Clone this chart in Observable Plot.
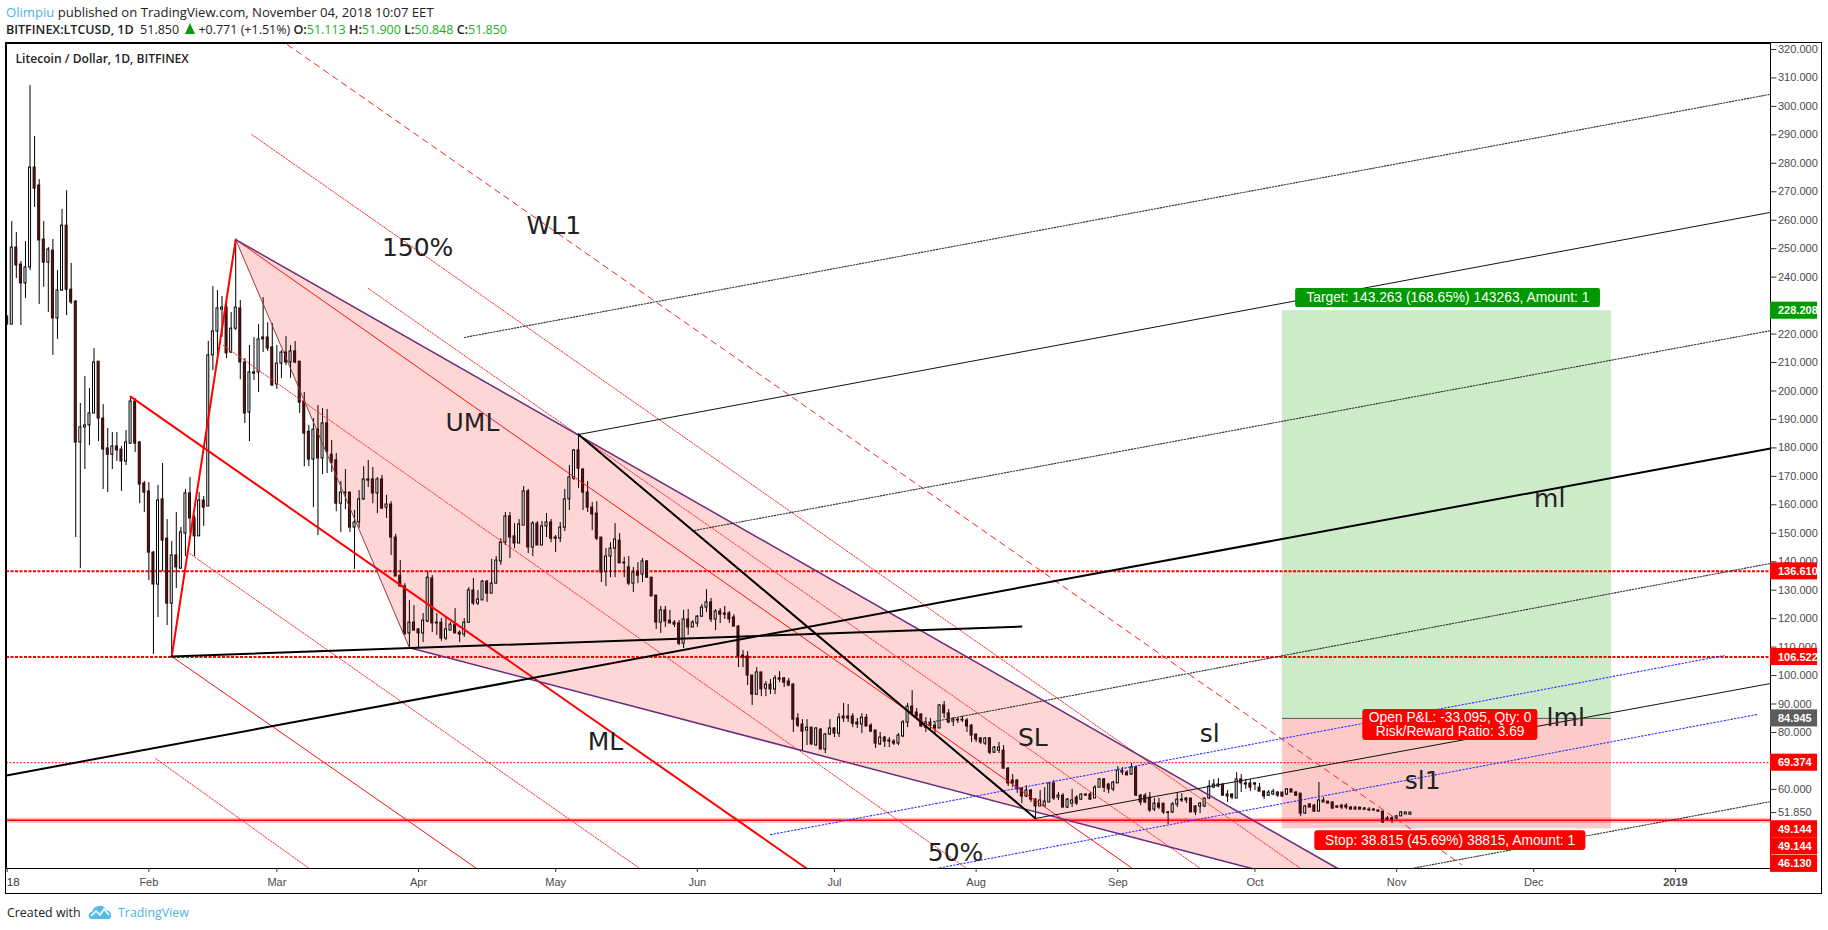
<!DOCTYPE html>
<html><head><meta charset="utf-8">
<script src="https://cdn.jsdelivr.net/npm/d3@7"></script>
<script src="https://cdn.jsdelivr.net/npm/@observablehq/plot@0.6"></script>
<style>
html,body{margin:0;padding:0;background:#fff;width:1828px;height:930px;overflow:hidden}
body{position:relative;font-family:"Open Sans",sans-serif;color:#222}
#h1,#h2,#foot{position:absolute;white-space:nowrap}
#h1{left:6px;top:3px;font-size:13.1px;line-height:18px}
#h1 .u{color:#4ab3e8}
#h2{left:6px;top:21px;font-size:12.5px;line-height:18px}
#h2 b{font-weight:600}
#h2 i{font-style:normal;color:#1db01d}
#h2 .tri{display:inline-block;width:0;height:0;border-left:5px solid transparent;border-right:5px solid transparent;border-bottom:11px solid #0a9a0a;margin:0 3px 0 3px}
#foot{left:7px;top:903px;font-size:12.4px;line-height:20px;height:20px}
#foot .t{position:absolute;left:111px;top:0;color:#4ab3e8;font-size:12.4px}
#foot svg{position:absolute;left:81px;top:1px}
#chart{position:absolute;left:6px;top:43px}
</style></head><body>
<div id="h1"><span class="u">Olimpiu</span> published on TradingView.com, November 04, 2018 10:07 EET</div>
<div id="h2"><b>BITFINEX:LTCUSD, 1D</b>&nbsp; 51.850 <span class="tri"></span>+0.771 (+1.51%) <b>O:</b><i>51.113</i> <b>H:</b><i>51.900</i> <b>L:</b><i>50.848</i> <b>C:</b><i>51.850</i></div>
<div id="chart"></div>
<div id="foot">Created with<svg width="24" height="16" viewBox="0 0 24 16"><path d="M1 13 C0 10 2 8 4 8 C5 4 8 2 11 2 C14 1 17 3 18 6 C21 6 24 9 23 13 C22 15 21 15 19 15 L4 15 C2 15 1 14 1 13 Z" fill="#55bce8"/><path d="M3 12 L8 7 L12 11 L16 5 L21 11" fill="none" stroke="#fff" stroke-width="1.6"/></svg><span class="t">TradingView</span></div>
<script>
const opens=[226.2,223.3,250.4,244.4,237.8,243.4,278.5,272.2,253.2,245.1,249.3,225.5,235.3,258.1,235.6,231.4,181.9,187.2,187.9,192.1,210.3,190.3,179.8,177.6,180.5,179.4,175.2,181.5,196.3,181.9,167.5,164.7,143.2,132.0,161.9,148.1,125.3,142.2,137.6,149.9,164.0,155.2,148.9,161.5,159.4,212.5,220.9,228.6,229.3,213.5,221.9,229.0,210.0,192.4,206.1,206.5,218.8,218.8,215.3,202.3,209.6,213.5,210.0,213.9,210.3,196.3,185.7,175.9,186.4,176.3,188.6,177.6,175.6,160.4,164.3,164.3,152.0,153.8,161.9,168.5,168.9,164.0,168.9,159.0,160.1,148.5,135.1,131.3,114.8,118.6,116.2,114.8,119.0,134.1,118.6,118.6,113.0,115.8,117.9,115.1,114.4,118.6,129.9,125.3,126.4,133.0,128.8,132.3,140.1,146.7,155.9,148.9,146.4,152.7,164.7,145.0,153.4,145.7,152.4,153.8,148.5,148.1,152.0,161.9,169.2,179.1,172.4,164.3,159.0,156.9,148.5,136.5,141.8,144.6,147.4,139.7,138.0,132.3,136.2,135.5,140.1,134.4,128.1,118.6,122.9,119.3,118.6,118.3,111.2,119.7,116.9,118.3,120.7,123.9,125.7,119.7,122.5,121.8,121.8,120.4,117.2,107.0,106.7,100.0,93.3,101.1,95.4,96.8,95.1,98.6,99.0,97.9,96.8,84.9,82.8,80.7,81.7,75.4,81.0,74.0,79.3,81.4,79.6,85.6,85.6,85.6,83.5,82.8,85.2,82.4,80.7,75.8,78.2,77.2,76.8,76.1,78.6,83.5,89.1,87.0,86.3,81.7,83.5,82.4,81.4,89.5,86.7,83.8,84.5,84.5,84.2,82.4,79.3,77.9,76.1,77.9,72.9,73.6,73.6,67.3,63.1,63.1,60.3,57.5,59.6,56.4,54.0,54.0,55.4,62.1,57.1,57.8,53.6,55.0,57.1,56.4,58.2,58.2,56.8,60.6,63.5,61.7,60.0,62.1,66.6,65.9,65.2,67.7,57.8,57.8,57.1,52.9,55.0,55.0,51.9,51.9,54.7,56.1,56.8,56.8,54.0,54.0,54.0,56.8,60.6,61.0,61.7,58.2,58.2,56.8,63.5,61.7,62.1,61.7,60.6,59.2,57.8,58.2,58.9,58.9,58.2,60.0,58.9,58.5,51.5,54.7,54.3,52.2,56.1,55.7,55.4,54.0,54.3,54.3,53.6,53.6,53.6,53.3,52.9,52.9,52.6,52.2,49.8,49.4,49.8,50.5,51.2,51.113];
const highs=[226.2,259.5,255.7,245.5,252.5,307.3,289.4,274.3,259.5,250.4,253.2,242.3,263.8,270.4,244.8,231.8,195.6,205.1,200.9,214.9,210.3,195.2,186.8,185.4,185.4,180.5,186.1,197.7,197.3,182.2,168.2,167.8,143.6,166.8,174.5,154.8,147.1,157.3,152.0,165.4,169.6,156.2,164.3,162.9,217.4,236.7,235.3,233.2,230.7,227.6,253.2,231.8,211.4,216.0,218.8,223.3,232.8,224.0,223.7,216.0,214.2,219.1,216.0,217.4,210.3,199.5,187.9,190.3,194.9,193.8,193.5,182.6,178.0,168.2,172.4,164.3,158.0,165.0,173.4,175.6,173.1,169.6,170.3,163.3,161.1,149.6,140.4,132.3,126.4,124.6,116.5,121.8,136.6,135.1,121.8,120.0,120.4,118.6,123.5,115.8,120.0,130.9,134.1,129.9,133.4,133.4,140.8,141.8,148.1,157.3,157.3,153.4,154.8,166.4,165.4,154.1,154.1,154.1,156.9,154.8,149.2,153.8,165.4,173.8,179.4,185.0,172.7,168.2,160.8,161.1,148.5,144.6,146.7,153.4,149.9,141.5,141.8,138.0,139.7,141.1,140.4,134.4,128.1,124.3,124.3,122.9,119.3,119.3,122.9,123.2,119.3,121.1,125.0,130.2,127.1,123.2,123.5,124.3,122.5,121.4,117.6,108.8,108.4,100.0,102.8,101.1,97.9,98.6,100.0,101.4,99.3,99.0,97.2,86.6,84.5,84.5,81.7,81.7,81.4,79.6,84.5,81.7,86.6,90.2,89.8,86.6,84.9,86.6,86.3,83.1,80.7,80.0,78.6,78.2,77.5,79.6,84.2,90.2,94.7,88.4,86.6,85.2,84.9,83.5,89.8,90.9,88.1,85.2,85.2,85.6,84.9,82.8,79.3,78.2,78.2,78.2,75.1,76.5,75.4,67.7,65.2,63.5,60.3,61.3,60.0,56.8,59.6,60.6,62.4,63.1,58.9,58.5,56.8,60.0,57.8,58.5,58.5,58.9,61.3,63.8,63.8,62.1,62.8,68.0,67.7,66.6,69.1,68.0,58.2,58.5,58.9,56.8,56.8,55.0,52.2,55.4,58.9,58.5,57.1,56.8,54.3,55.4,56.8,63.1,63.5,63.8,62.1,59.6,58.5,65.9,65.2,63.5,63.5,62.4,62.1,59.6,59.6,60.0,59.2,58.9,60.3,60.0,59.2,58.5,54.3,55.0,54.7,62.4,57.1,55.7,55.7,54.3,54.7,55.0,54.0,54.0,53.6,53.6,53.6,53.3,52.6,52.2,50.5,50.5,50.8,52.2,51.9,51.900];
const lows=[223.3,223.3,239.5,223.0,232.5,242.3,264.5,230.4,236.4,227.6,212.5,218.1,235.0,226.5,230.4,148.5,137.6,172.4,180.8,192.1,182.2,165.4,164.3,172.4,175.2,164.7,173.8,181.2,178.4,160.4,157.3,133.4,107.4,120.4,136.5,117.6,106.7,130.6,137.3,141.8,149.9,141.8,148.9,152.4,159.4,207.2,209.6,218.8,211.4,213.2,221.2,204.0,188.6,182.2,203.7,199.5,213.5,213.9,201.6,200.5,204.4,208.9,204.4,209.6,192.1,173.4,173.4,159.0,149.2,170.6,171.0,171.3,157.6,150.3,158.3,150.3,137.3,151.7,161.5,166.1,160.4,156.9,158.3,155.2,142.2,134.8,130.9,114.4,109.8,115.8,109.8,111.6,118.6,115.1,114.1,112.0,112.3,115.8,114.8,111.6,113.4,118.3,124.6,124.6,126.4,125.7,128.8,132.3,138.7,145.7,141.1,144.6,146.4,152.7,142.9,141.8,145.7,145.7,148.5,146.7,143.2,146.7,150.6,158.0,168.5,165.7,158.0,157.3,150.9,147.4,132.7,131.3,134.4,134.4,139.4,134.4,131.6,129.2,132.3,132.7,134.1,127.8,116.2,114.8,116.9,118.3,116.9,110.5,109.5,114.1,116.9,116.9,120.4,122.1,118.6,115.8,118.3,119.7,118.3,117.2,102.8,102.8,96.5,89.5,93.0,92.6,92.6,93.3,93.3,97.5,95.8,96.1,80.0,81.7,73.6,75.4,75.4,75.4,74.0,72.6,78.9,78.2,78.2,83.5,83.5,81.7,81.4,79.6,82.1,80.0,74.4,75.4,74.7,74.7,75.4,75.4,78.2,81.7,85.9,84.9,81.7,80.0,80.7,79.6,81.4,84.9,83.1,82.1,83.1,83.5,80.0,76.5,76.5,75.8,75.4,72.2,72.6,72.6,67.0,61.0,60.6,58.6,55.0,57.1,55.4,50.1,54.0,54.0,55.4,56.1,56.1,53.6,53.3,53.6,54.3,56.1,57.5,56.1,56.8,60.6,58.9,58.5,59.2,62.1,64.9,64.9,64.9,57.5,54.3,55.0,51.9,52.2,52.9,51.2,47.6,51.5,53.6,55.4,55.0,51.9,50.8,51.5,53.6,56.4,60.3,60.6,57.5,55.4,56.4,56.8,58.9,60.0,59.2,59.6,59.2,56.4,57.5,57.8,57.1,57.1,57.8,58.9,57.5,50.4,51.2,53.6,51.9,52.2,55.4,55.0,52.9,53.3,52.9,52.9,52.9,52.9,52.9,52.6,52.2,52.2,51.9,48.0,49.1,48.0,49.4,50.5,51.2,50.848];
const closes=[223.3,250.4,244.1,237.8,243.4,278.5,271.1,252.9,245.1,249.7,225.5,235.3,258.1,235.6,231.1,181.9,187.2,187.9,192.1,210.0,190.3,179.4,177.6,180.5,179.1,175.2,181.9,196.3,181.5,167.1,164.3,143.2,132.0,161.5,147.4,125.3,142.2,138.0,150.3,164.0,155.2,148.9,161.5,159.0,212.5,220.9,229.0,229.3,213.2,221.9,229.3,210.0,192.1,206.5,206.5,218.1,218.1,214.9,201.9,209.6,213.5,210.0,213.9,210.0,195.9,185.0,175.9,186.4,176.3,188.6,178.7,174.8,160.4,164.3,164.0,152.0,153.8,161.9,168.9,168.9,164.0,168.9,158.7,160.1,148.5,134.8,131.3,114.4,118.6,115.8,114.8,119.3,134.4,118.3,118.3,113.0,116.2,117.9,114.8,114.4,118.6,129.9,125.3,126.7,133.0,128.8,132.3,140.4,146.7,155.9,148.5,146.4,153.1,164.7,145.0,153.4,145.7,152.4,153.8,148.1,148.1,152.0,161.9,169.6,179.1,172.7,164.3,159.0,156.6,148.1,136.2,141.8,144.6,147.8,139.4,139.4,132.3,136.2,135.1,140.1,134.4,127.8,118.6,122.9,119.0,118.3,117.9,111.2,119.7,116.9,118.6,120.7,123.9,125.7,119.7,122.5,121.4,121.4,119.7,117.2,106.7,106.3,100.0,93.3,101.1,95.1,96.8,95.1,99.0,99.0,97.5,96.5,84.5,82.4,80.3,81.7,75.8,81.4,74.0,79.3,81.4,79.6,85.2,84.9,84.9,83.1,82.8,85.2,82.1,80.3,76.1,78.2,76.8,76.8,76.1,78.9,83.5,89.1,86.7,85.6,82.1,83.5,82.4,81.4,89.5,86.7,83.5,84.5,84.2,84.2,82.1,78.9,77.5,76.5,77.9,72.9,74.7,74.7,67.3,62.1,62.1,60.0,57.5,59.6,56.4,54.0,56.1,55.7,62.1,56.8,57.8,53.6,56.4,56.1,55.0,58.2,57.8,56.4,60.6,63.5,60.6,60.0,62.4,66.6,65.9,64.9,67.7,57.8,55.4,55.4,52.6,55.0,53.6,51.9,51.7,54.7,56.4,56.4,56.1,51.9,51.9,55.0,56.8,61.0,61.7,61.7,57.8,57.5,57.1,63.5,62.1,62.1,60.6,62.1,59.2,57.5,58.9,59.2,57.8,57.5,60.0,58.9,57.8,51.5,54.0,53.6,52.2,56.1,55.4,55.0,53.3,53.6,53.6,53.6,52.9,52.9,52.9,52.9,52.6,52.6,52.2,48.4,49.4,49.8,50.5,51.9,51.9,51.850];

const monthBars=[31,59,90,120,151,181,212,243,273,304,334];
const monthLabels=["Feb","Mar","Apr","May","Jun","Jul","Aug","Sep","Oct","Nov","Dec"];
const yearBars=[0,365];
const priceTicks=[320,310,300,290,280,270,260,250,240,220,210,200,190,180,170,160,150,140,130,120,110,100,90,80,60,51.85];
const tagPrices=[228.208,136.61,106.522,84.945,69.374,49.144,49.144,46.13];
const hLevels=[136.61,106.522];

const forkFill=[[50,253.2],[291.1,32.2],[272.3,32.2],[88,109.8]];
const forkEdges=[[[50,253.2],[291.1,32.2]],[[88,109.8],[272.3,32.2]]];
const forkLeft=[[50,253.2],[88,109.8]];
const redThick=[[[36,106.7],[50,253.2]],[[27,198],[174.9,32.2]]];
const redThin=[[[50,253.2],[246.2,32.2]],[[36,106.7],[102.7,32.2]]];
const redDotted=[[[53.5,290.1],[283,32.2]],[[79,236],[261.1,32.2]],[[47.3,216],[209.9,32.2]],[[39.9,142.9],[138.4,32.2]],[[32.5,70.8],[66.1,32.2]]];
const redDashed=[[61.3,321.7],[318.2,33.6]];
const blackThick=[[[-0.15,64.9],[385.8,179.8]],[[36,106.7],[221.9,117.2]],[[125,184.7],[225,49.8]]];
const blackThin=[[[125,184.7],[385.6,262.7]],[[225,49.8],[385.8,97.2]]];
const grayDotted=[[[100,218.8],[385.6,304.2]],[[150.4,151],[385.8,221.2]],[[202.7,83.8],[385.8,139.4]],[[307.3,32.2],[385.8,55.7]]];
const blueDotted=[[[167,44.1],[375.6,107]],[[203.3,32.2],[382.8,86.3]]];

const noteText=["150%","WL1","UML","ML","SL","sl","sl1","lml","ml","50%"];
const noteBar=[89.8,119.6,101.8,130.9,224.4,263.1,309.7,341,337.5,207.5];
const notePrice=[250.4,257.8,188.9,76.5,78.2,79.6,62.8,85.2,162.2,37.5];

const posBars=[279,351];
const targetPrice=228.208, entryPrice=84.945, stopPrice=46.13;

const bars=opens.map((o,i)=>({i,o,h:highs[i],l:lows[i],c:closes[i]}));
const up=bars.filter(d=>d.c>=d.o), down=bars.filter(d=>d.c<d.o);
const X=d=>d[0],Y=d=>d[1];
const seg=(pts,o)=>Plot.line(pts,{x:X,y:Y,...o});
const segs=(list,o)=>list.map(p=>seg(p,o));
const bw=0.22;
const AX="Liberation Sans, Arial, sans-serif";
const ANN="DejaVu Sans, sans-serif";
const tagColor=i=>i===0?"#009900":i===3?"#5d5d5d":"#ff0000";
const tagStack=[0,0,0,0,0,9,26,35];
const tagMarks=tagPrices.flatMap((p,i)=>[
  Plot.rect([p],{x1:385.8,x2:396.1,y1:p-3,y2:p+3,dy:tagStack[i],fill:tagColor(i)}),
  Plot.text([p],{x:385.8,y:p,text:d=>d.toFixed(3),dy:tagStack[i],dx:7.5,textAnchor:"start",lineAnchor:"middle",fontFamily:AX,fontWeight:"bold",fontSize:11,fill:"#fff"})
]);

const chart=Plot.plot({
  width:1815,height:850,marginLeft:0,marginRight:51,marginTop:0,marginBottom:25,
  style:{outline:"1px solid #000",outlineOffset:"0",background:"#fff",overflow:"visible"},
  x:{type:"linear",domain:[-0.15,385.8],axis:null},
  y:{type:"linear",domain:[32.2,322.1],axis:null},
  marks:[
    Plot.rect([0],{x1:posBars[0],x2:posBars[1],y1:entryPrice,y2:targetPrice,fill:"#cdebc9"}),
    Plot.rect([0],{x1:posBars[0],x2:posBars[1],y1:stopPrice,y2:entryPrice,fill:"#fdcaca"}),
    Plot.line(forkFill,{x:X,y:Y,fill:"#ff0000",fillOpacity:0.16,stroke:"none",clip:true}),
    Plot.ruleY(hLevels,{stroke:"#ff0000",strokeWidth:2,strokeDasharray:"3 1.5"}),
    Plot.ruleY([69.374],{stroke:"#ff0000",strokeWidth:1,strokeDasharray:"2 1.5"}),
    Plot.ruleY([49.144],{stroke:"#ff0000",strokeOpacity:0.25,strokeWidth:5}),
    Plot.ruleY([49.144],{stroke:"#ff0000",strokeWidth:1.5}),
    Plot.ruleX(bars,{x:"i",y1:"l",y2:"h",stroke:"#000",strokeWidth:1}),
    Plot.rect(up,{x1:d=>d.i-bw,x2:d=>d.i+bw,y1:"o",y2:"c",fill:"#fff",stroke:"#000",strokeWidth:1}),
    Plot.rect(down,{x1:d=>d.i-bw,x2:d=>d.i+bw,y1:"o",y2:"c",fill:"#5a1414",stroke:"#2a0808",strokeWidth:1}),
    ...segs(redDotted,{stroke:"#ff2a2a",strokeWidth:1,strokeDasharray:"1.5 1.5"}),
    seg(redDashed,{stroke:"#ff2020",strokeWidth:1,strokeDasharray:"6 5"}),
    ...segs(redThin,{stroke:"#ff1010",strokeWidth:1}),
    ...segs(redThick,{stroke:"#ff0000",strokeWidth:2}),
    seg(forkLeft,{stroke:"#8e3c3c",strokeWidth:1}),
    ...segs(forkEdges,{stroke:"#6a2d7d",strokeWidth:1.5}),
    ...segs(grayDotted,{stroke:"#333",strokeWidth:1.1,strokeDasharray:"1.5 1.5"}),
    ...segs(blueDotted,{stroke:"#3030ff",strokeWidth:1.1,strokeDasharray:"1.5 2"}),
    ...segs(blackThin,{stroke:"#111",strokeWidth:1}),
    ...segs(blackThick,{stroke:"#000",strokeWidth:2}),
    Plot.ruleY([entryPrice],{x1:posBars[0],x2:posBars[1],stroke:"#555",strokeWidth:1}),
    Plot.text(noteText,{x:(d,i)=>noteBar[i],y:(d,i)=>notePrice[i],text:d=>d,fontFamily:ANN,fontSize:25,fill:"#222",textAnchor:"middle",lineAnchor:"middle"}),
    Plot.rect([0],{x1:281.9,x2:348.6,y1:229.3,y2:236,fill:"#009900",rx:2}),
    Plot.text(["Target: 143.263 (168.65%) 143263, Amount: 1"],{x:315.2,y:232.7,text:d=>d,fill:"#fff",fontFamily:AX,fontSize:13.8,lineAnchor:"middle"}),
    Plot.rect([0],{x1:296.6,x2:334.9,y1:77.2,y2:88.1,fill:"#ff0000",rx:3}),
    Plot.text(["Open P&L: -33.095, Qty: 0\nRisk/Reward Ratio: 3.69"],{x:315.7,y:82.7,text:d=>d,fill:"#fff",fontFamily:AX,fontSize:13.8,lineAnchor:"middle",lineHeight:1}),
    Plot.rect([0],{x1:286.1,x2:345.4,y1:38.5,y2:45.5,fill:"#ff0000",rx:3}),
    Plot.text(["Stop: 38.815 (45.69%) 38815, Amount: 1"],{x:315.7,y:42,text:d=>d,fill:"#fff",fontFamily:AX,fontSize:13.8,lineAnchor:"middle"}),
    Plot.frame({stroke:"#000",strokeWidth:1}),
    Plot.ruleY(priceTicks,{x1:385.8,x2:387.2,stroke:"#333"}),
    Plot.text(priceTicks,{x:385.8,y:d=>d,text:d=>d.toFixed(3),dx:7.5,textAnchor:"start",lineAnchor:"middle",fontFamily:AX,fontSize:11,fill:"#4a4a4a"}),
    ...tagMarks,
    Plot.ruleX(monthBars.concat(yearBars),{y1:32.2,y2:30.8,stroke:"#333"}),
    Plot.text(monthBars,{x:d=>d,text:(d,i)=>monthLabels[i],frameAnchor:"bottom",dy:14,fontFamily:AX,fontSize:11,fill:"#4a4a4a",lineAnchor:"middle"}),
    Plot.text(["18"],{x:0,text:d=>d,frameAnchor:"bottom",dy:14,dx:6,fontFamily:AX,fontSize:11.5,fill:"#333",lineAnchor:"middle"}),
    Plot.text(["2019"],{x:365,text:d=>d,frameAnchor:"bottom",dy:14,fontFamily:AX,fontWeight:"bold",fontSize:11,fill:"#4a4a4a",lineAnchor:"middle"}),
    Plot.text(["Litecoin / Dollar, 1D, BITFINEX"],{text:d=>d,frameAnchor:"top-left",dx:9,dy:11,fontFamily:"Open Sans, sans-serif",fontWeight:600,fontSize:12.1,fill:"#222",textAnchor:"start"})
  ]
});
document.getElementById("chart").appendChild(chart);
</script>
</body></html>
